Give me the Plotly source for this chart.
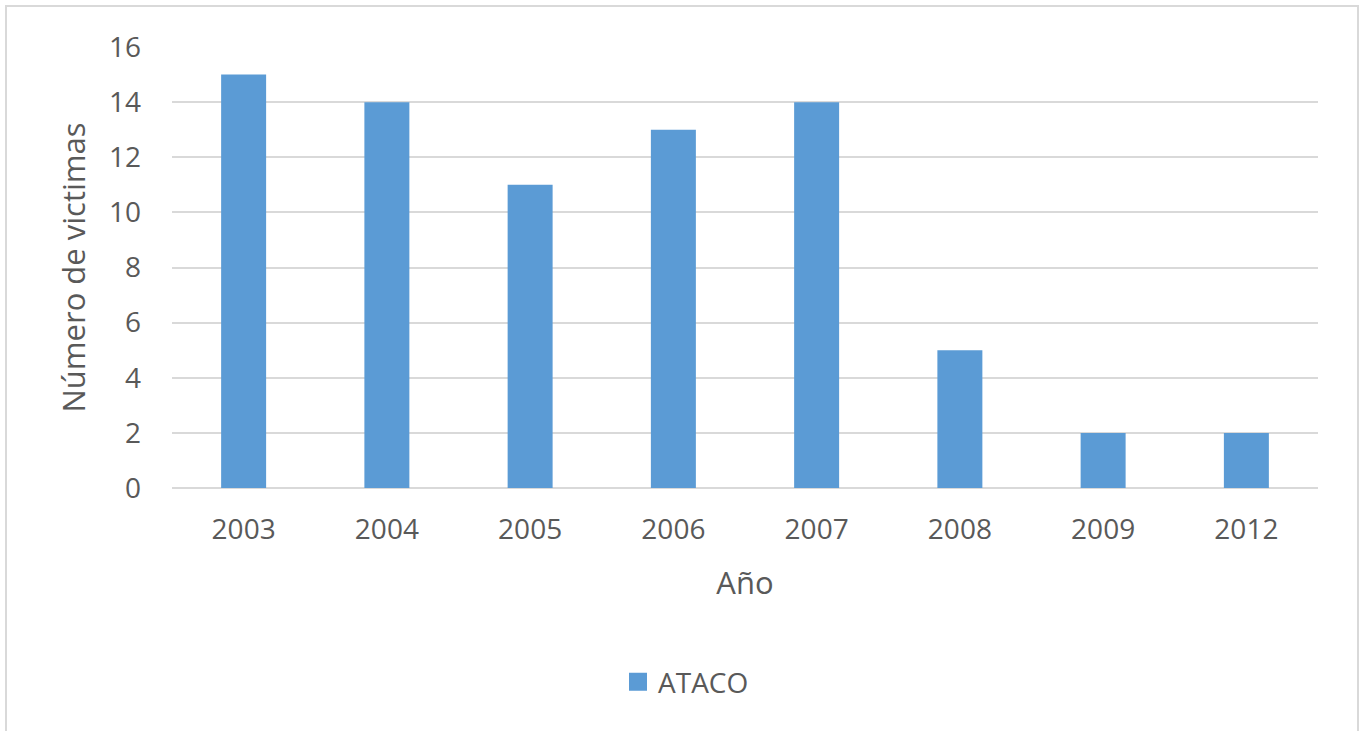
import plotly.graph_objects as go

# Víctimas por año (serie ATACO)
years = ["2003", "2004", "2005", "2006", "2007", "2008", "2009", "2012"]
victims = [15, 14, 11, 13, 14, 5, 2, 2]
series_name = "ATACO"
y_ticks = [0, 2, 4, 6, 8, 10, 12, 14, 16]

W, H = 1364, 731
L, R, T, B = 172, 46, 47, 243
pw, ph = W - L - R, H - T - B

def px_x(x):
    return (x - L) / pw

def px_y(y):
    return (H - B - y) / ph

text_color = "#595959"
grid_color = "#d9d9d9"
bar_color = "#5b9bd5"
font_family = "Open Sans, DejaVu Sans, sans-serif"

fig = go.Figure()
fig.add_trace(
    go.Bar(
        x=years,
        y=victims,
        name=series_name,
        legendgroup=series_name,
        marker=dict(color=bar_color, line=dict(width=0)),
        showlegend=False,
    )
)
# legend key: a larger square swatch for the same series
fig.add_trace(
    go.Scatter(
        x=[None],
        y=[None],
        mode="markers",
        name=series_name,
        legendgroup=series_name,
        marker=dict(symbol="square", size=16, color=bar_color,
                    line=dict(color=bar_color, width=2)),
        showlegend=True,
        hoverinfo="skip",
    )
)

fig.update_layout(
    width=W,
    height=H,
    margin=dict(l=L, r=R, t=T, b=B, autoexpand=False),
    paper_bgcolor="white",
    plot_bgcolor="white",
    bargap=0.686,
    font=dict(family=font_family, color=text_color, size=28),
    showlegend=True,
    legend=dict(
        orientation="h",
        x=px_x(618),
        xanchor="left",
        y=px_y(682),
        yanchor="middle",
        font=dict(size=28, color=text_color),
        bgcolor="rgba(0,0,0,0)",
        itemclick=False,
        itemdoubleclick=False,
    ),
    xaxis=dict(
        type="category",
        showgrid=False,
        showline=False,
        zeroline=False,
        ticks="",
        tickfont=dict(size=28, color=text_color),
        ticklabelstandoff=22,
        title=dict(text="Año", font=dict(size=31, color=text_color), standoff=26),
    ),
    yaxis=dict(
        range=[0, 16],
        tickvals=y_ticks,
        showgrid=True,
        gridcolor=grid_color,
        gridwidth=2,
        zeroline=True,
        zerolinecolor=grid_color,
        zerolinewidth=2,
        showline=False,
        ticks="",
        tickfont=dict(size=28, color=text_color),
        ticklabelstandoff=30,
        title=dict(text="Número de victimas", font=dict(size=31, color=text_color), standoff=14),
    ),
    shapes=[
        dict(
            type="rect",
            xref="paper",
            yref="paper",
            x0=px_x(6),
            x1=px_x(1358),
            y0=px_y(740),
            y1=px_y(6),
            line=dict(color=grid_color, width=2),
            fillcolor="rgba(0,0,0,0)",
            layer="below",
        )
    ],
)

fig.write_html("out.html")
